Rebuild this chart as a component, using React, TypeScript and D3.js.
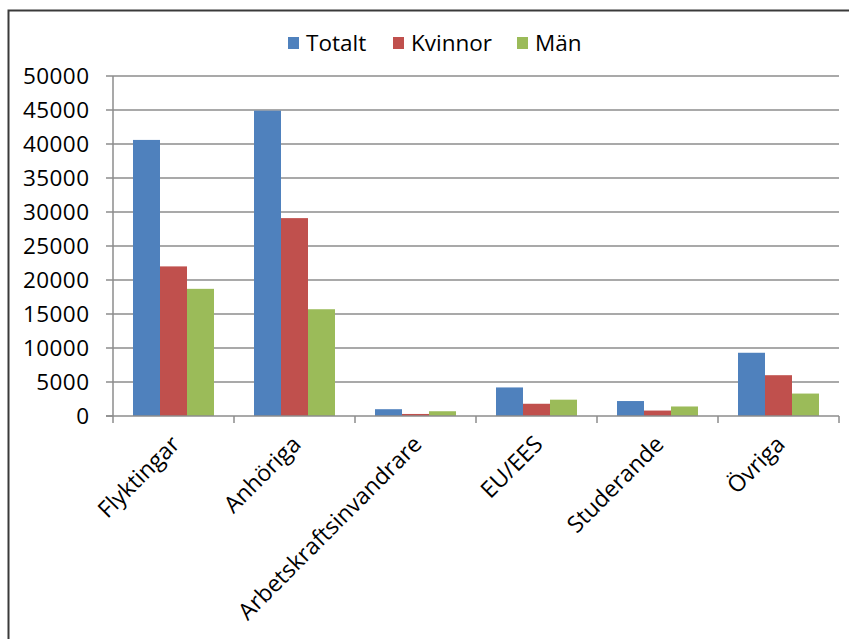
import * as d3 from 'd3';

const categories = ['Flyktingar', 'Anhöriga', 'Arbetskraftsinvandrare', 'EU/EES', 'Studerande', 'Övriga'];
const seriesNames = ['Totalt', 'Kvinnor', 'Män'];
const totalt = [40600, 44900, 1000, 4200, 2200, 9300];
const kvinnor = [22000, 29100, 300, 1800, 800, 6000];
const man = [18700, 15700, 700, 2400, 1400, 3300];
const yTicks = [0, 5000, 10000, 15000, 20000, 25000, 30000, 35000, 40000, 45000, 50000];
const colors = ['#4F81BD', '#C0504D', '#9BBB59'];

const W = 849;
const H = 639;
const font = '"Open Sans", sans-serif';

export default function App() {
  const series = [totalt, kvinnor, man];

  // plot area
  const x = d3.scaleBand().domain(categories).range([113, 839]).paddingInner(0).paddingOuter(0);
  const inner = d3
    .scaleBand()
    .domain(seriesNames)
    .range([20, x.bandwidth() - 20]);
  const y = d3.scaleLinear().domain([0, 50000]).range([416, 76]);

  const legendItems = [
    { name: 'Totalt', x: 288 },
    { name: 'Kvinnor', x: 393 },
    { name: 'Män', x: 517 },
  ];

  return (
    <div style={{ position: 'absolute', left: 0, top: 0 }}>
      <svg width={W} height={H} style={{ display: 'block', background: '#fff' }}>
        {/* chart frame */}
        <rect x={8.5} y={10.5} width={W + 10} height={H + 10} fill="#fff" stroke="#3a3a3a" strokeWidth={2} />

        {/* gridlines + y ticks */}
        {yTicks.map((t) => (
          <g key={t}>
            {t > 0 && <line x1={113} x2={839} y1={y(t)} y2={y(t)} stroke="#8c8c8c" strokeWidth={1.5} />}
            <line x1={106} x2={113} y1={y(t)} y2={y(t)} stroke="#8c8c8c" strokeWidth={1.5} />
            <text
              x={89}
              y={y(t)}
              dy="0.36em"
              textAnchor="end"
              fontFamily={font}
              fontSize={22.5}
              textLength={String(t).length * 13.2}
              fill="#000"
            >
              {t}
            </text>
          </g>
        ))}

        {/* bars */}
        {categories.map((c, i) => (
          <g key={c} transform={`translate(${x(c)},0)`}>
            {seriesNames.map((s, j) => (
              <rect
                key={s}
                x={inner(s)}
                y={y(series[j][i])}
                width={inner.bandwidth()}
                height={y(0) - y(series[j][i])}
                fill={colors[j]}
              />
            ))}
          </g>
        ))}

        {/* axes */}
        <line x1={113} x2={113} y1={76} y2={416} stroke="#8c8c8c" strokeWidth={1.5} />
        <line x1={106} x2={839} y1={416} y2={416} stroke="#8c8c8c" strokeWidth={1.5} />
        {[...categories.map((c) => x(c) as number), 839].map((tx, k) => (
          <line key={k} x1={tx} x2={tx} y1={416} y2={423} stroke="#8c8c8c" strokeWidth={1.5} />
        ))}

        {/* category labels */}
        {categories.map((c) => {
          const cx = (x(c) as number) + x.bandwidth() / 2;
          return (
            <text
              key={c}
              transform={`translate(${cx + 2},${440}) rotate(-45)`}
              textAnchor="end"
              dy="0.35em"
              fontFamily={font}
              fontSize={23}
              fill="#000"
            >
              {c}
            </text>
          );
        })}

        {/* legend */}
        {legendItems.map((l, i) => (
          <g key={l.name}>
            <rect x={l.x} y={37} width={11} height={12} fill={colors[i]} />
            <text x={l.x + 18} y={43} dy="0.36em" fontFamily={font} fontSize={22.5} fill="#000">
              {l.name}
            </text>
          </g>
        ))}
      </svg>
    </div>
  );
}
